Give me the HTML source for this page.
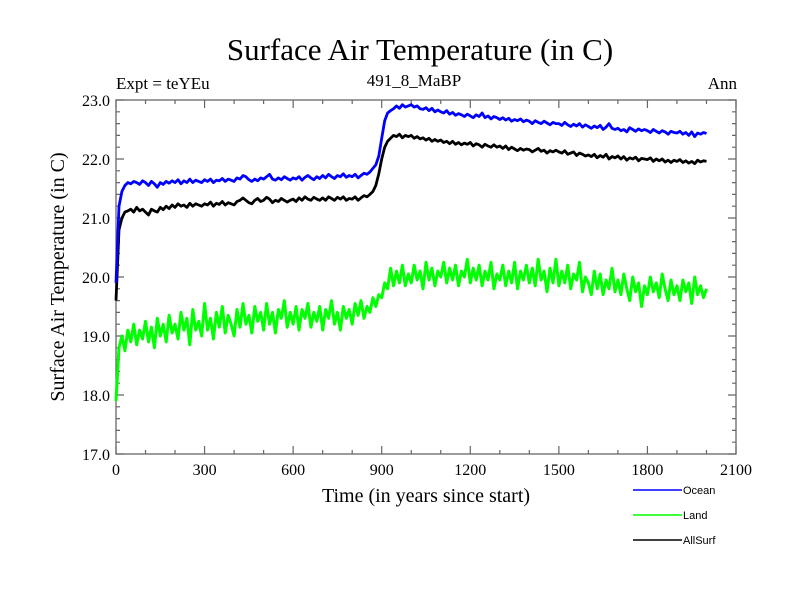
<!DOCTYPE html>
<html><head><meta charset="utf-8"><style>
body{margin:0;background:#fff}
svg{display:block}
text{font-family:"Liberation Serif",serif;fill:#000}
</style></head><body>
<svg id="chart" width="800" height="600">
<text x="420" y="60" font-size="31" text-anchor="middle">Surface Air Temperature (in C)</text>
<text x="116" y="89" font-size="17">Expt = teYEu</text>
<text x="414" y="86" font-size="17" text-anchor="middle">491_8_MaBP</text>
<text x="737" y="89" font-size="17" text-anchor="end">Ann</text>
<text transform="translate(64,277) rotate(-90)" font-size="20" text-anchor="middle">Surface Air Temperature (in C)</text>
<text x="426" y="502" font-size="20" text-anchor="middle">Time (in years since start)</text>
<g id="axes"></g>
<g id="series"></g>
<g id="legend"></g>
</svg>
<script>
const years0 = 0, yearStep = 10;
const xTicks = [0,300,600,900,1200,1500,1800,2100];
const yTicks = [17.0,18.0,19.0,20.0,21.0,22.0,23.0];
const seriesNames = ["Ocean","Land","AllSurf"];
const ocean = [19.9,21.2,21.45,21.55,21.6,21.58,21.62,21.6,21.57,21.63,
21.6,21.55,21.62,21.58,21.52,21.6,21.57,21.62,21.59,21.63,
21.6,21.65,21.58,21.63,21.6,21.66,21.6,21.64,21.62,21.6,
21.65,21.62,21.66,21.6,21.64,21.63,21.67,21.62,21.66,21.64,
21.62,21.68,21.66,21.72,21.7,21.65,21.62,21.66,21.63,21.68,
21.66,21.7,21.74,21.66,21.64,21.68,21.65,21.7,21.67,21.64,
21.68,21.66,21.7,21.64,21.69,21.72,21.68,21.65,21.7,21.67,
21.72,21.68,21.74,21.7,21.67,21.72,21.7,21.75,21.69,21.72,
21.7,21.74,21.68,21.72,21.76,21.74,21.78,21.84,21.9,22.05,
22.35,22.65,22.78,22.82,22.85,22.9,22.86,22.92,22.88,22.9,
22.92,22.88,22.9,22.85,22.84,22.87,22.82,22.86,22.8,22.83,
22.8,22.78,22.82,22.76,22.79,22.74,22.77,22.75,22.72,22.76,
22.73,22.7,22.75,22.72,22.78,22.7,22.73,22.68,22.72,22.7,
22.67,22.7,22.66,22.69,22.64,22.67,22.65,22.68,22.63,22.66,
22.64,22.6,22.65,22.62,22.6,22.64,22.61,22.58,22.62,22.6,
22.6,22.57,22.62,22.58,22.55,22.59,22.56,22.6,22.54,22.58,
22.55,22.52,22.56,22.53,22.57,22.5,22.54,22.6,22.52,22.5,
22.52,22.48,22.5,22.46,22.53,22.5,22.47,22.51,22.48,22.5,
22.48,22.45,22.5,22.47,22.44,22.48,22.46,22.42,22.47,22.45,
22.44,22.47,22.42,22.45,22.4,22.46,22.38,22.44,22.42,22.45,22.43];
const allSurf = [19.6,20.8,21.0,21.1,21.12,21.15,21.1,21.18,21.12,21.15,
21.1,21.05,21.15,21.12,21.1,21.18,21.14,21.2,21.16,21.22,
21.18,21.24,21.2,21.22,21.18,21.25,21.2,21.24,21.22,21.2,
21.24,21.22,21.27,21.2,21.25,21.23,21.28,21.22,21.26,21.24,
21.22,21.28,21.3,21.34,21.3,21.26,21.24,21.3,21.33,21.28,
21.3,21.35,21.32,21.26,21.3,21.28,21.33,21.3,21.27,21.3,
21.32,21.28,21.34,21.3,21.36,21.32,21.3,21.35,21.32,21.3,
21.34,21.3,21.36,21.33,21.3,21.35,21.32,21.36,21.3,21.33,
21.32,21.36,21.3,21.34,21.38,21.36,21.4,21.45,21.55,21.75,
22.0,22.2,22.3,22.35,22.4,22.38,22.42,22.36,22.4,22.38,
22.4,22.35,22.38,22.34,22.36,22.32,22.35,22.3,22.33,22.3,
22.32,22.28,22.3,22.26,22.3,22.25,22.28,22.24,22.27,22.25,
22.28,22.22,22.26,22.24,22.2,22.25,22.22,22.2,22.24,22.2,
22.22,22.18,22.22,22.16,22.2,22.17,22.14,22.18,22.15,22.17,
22.16,22.12,22.15,22.18,22.13,22.15,22.1,22.14,22.12,22.15,
22.12,22.1,22.14,22.08,22.1,22.12,22.06,22.1,22.08,22.05,
22.07,22.04,22.08,22.02,22.06,22.03,22.08,22.0,22.04,22.02,
22.05,22.0,22.04,21.98,22.02,22.0,22.03,21.97,22.01,22.0,
21.99,22.02,21.96,22.0,21.97,22.0,21.95,21.98,21.94,21.98,
21.96,21.99,21.94,21.97,21.93,21.96,21.92,21.98,21.95,21.97,21.96];
const land = [17.9,18.8,19.0,18.75,19.1,18.9,19.2,18.85,19.1,18.95,
19.25,18.9,19.15,18.8,19.3,19.0,19.2,18.9,19.35,19.05,
19.2,18.95,19.4,19.1,19.3,18.85,19.45,19.1,19.25,19.0,
19.55,19.1,19.3,18.95,19.4,19.15,19.5,19.05,19.35,19.2,
19.0,19.45,19.15,19.55,19.2,19.35,19.05,19.5,19.25,19.4,
19.1,19.55,19.2,19.4,19.05,19.45,19.3,19.6,19.15,19.4,
19.2,19.5,19.1,19.45,19.3,19.55,19.15,19.4,19.25,19.5,
19.1,19.45,19.3,19.6,19.2,19.4,19.1,19.5,19.3,19.45,
19.2,19.55,19.35,19.6,19.3,19.5,19.4,19.65,19.5,19.7,
19.65,19.9,19.8,20.15,19.85,20.1,19.9,20.2,19.85,20.05,
19.9,20.2,19.95,20.1,19.8,20.25,19.95,20.15,19.85,20.1,
20.0,20.25,19.9,20.15,19.95,20.2,19.85,20.1,20.0,20.3,
19.9,20.15,19.95,20.2,19.85,20.1,19.95,20.25,19.8,20.05,
19.95,20.2,19.85,20.1,19.9,20.25,19.8,20.1,19.95,20.2,
19.9,20.15,19.85,20.3,19.95,20.1,19.75,20.15,19.9,20.3,
19.85,20.1,19.9,20.2,19.8,20.05,19.95,20.25,19.75,20.0,
19.9,19.7,20.1,19.8,20.05,19.7,19.95,19.8,20.15,19.75,
19.95,19.7,20.05,19.8,19.6,20.0,19.75,19.9,19.5,19.85,
19.7,20.0,19.75,19.9,19.65,20.05,19.8,19.6,19.95,19.7,
19.85,19.6,19.95,19.75,19.9,19.55,20.0,19.7,19.85,19.65,19.8];

const NS="http://www.w3.org/2000/svg";
const X0=116,X1=736,Y0=454,Y1=100,XMIN=0,XMAX=2100,YMIN=17,YMAX=23;
const xs=v=>X0+(v-XMIN)/(XMAX-XMIN)*(X1-X0);
const ys=v=>Y0-(v-YMIN)/(YMAX-YMIN)*(Y0-Y1);
function mk(tag,attrs,parent){const e=document.createElementNS(NS,tag);for(const k in attrs)e.setAttribute(k,attrs[k]);parent.appendChild(e);return e;}
const axes=document.getElementById('axes');
const frame=mk('rect',{x:X0,y:Y1,width:X1-X0,height:Y0-Y1,fill:'none',stroke:'#666','stroke-width':1.3},axes);


let td='';
for(let v=XMIN;v<=XMAX;v+=100){const x=xs(v);const L=(v%300===0)?8:4;td+=`M${x},${Y0}v${-L}M${x},${Y1}v${L}`;}
for(let i=0;i<=30;i++){const v=YMIN+i*0.2;const y=ys(v);const L=(i%5===0)?8:4;td+=`M${X0},${y}h${L}M${X1},${y}h${-L}`;}
const tk=mk('path',{d:td,stroke:'#666','stroke-width':1.2,fill:'none'},axes);


xTicks.forEach(v=>{const t=mk('text',{x:xs(v),y:Y0+21,'font-size':16,'text-anchor':'middle'},axes);t.textContent=String(v);

});
yTicks.forEach(v=>{const t=mk('text',{x:X0-6,y:ys(v)+6,'font-size':16,'text-anchor':'end'},axes);t.textContent=v.toFixed(1);

});
const ser=document.getElementById('series');
function line(data,color,w,name){const d=data.map((v,i)=>(i?'L':'M')+xs(years0+i*yearStep).toFixed(1)+','+ys(v).toFixed(1)).join('');
const p=mk('path',{d:d,stroke:color,'stroke-width':w,fill:'none','stroke-linejoin':'round'},ser);

}
line(land,'#00ff00',3,'land-series');
line(allSurf,'#000000',2.8,'allsurf-series');
line(ocean,'#0000ff',2.8,'ocean-series');
const leg=document.getElementById('legend');
const cols=['#0000ff','#00ff00','#000000'];
seriesNames.forEach((n,i)=>{const y=490+i*25;
const l=mk('line',{x1:633,x2:682,y1:y,y2:y,stroke:cols[i],'stroke-width':1.5},leg);


const t=mk('text',{x:683,y:y+4,'font-size':11,style:'font-family:"Liberation Sans",sans-serif'},leg);t.textContent=n;

});
</script>
</body></html>
